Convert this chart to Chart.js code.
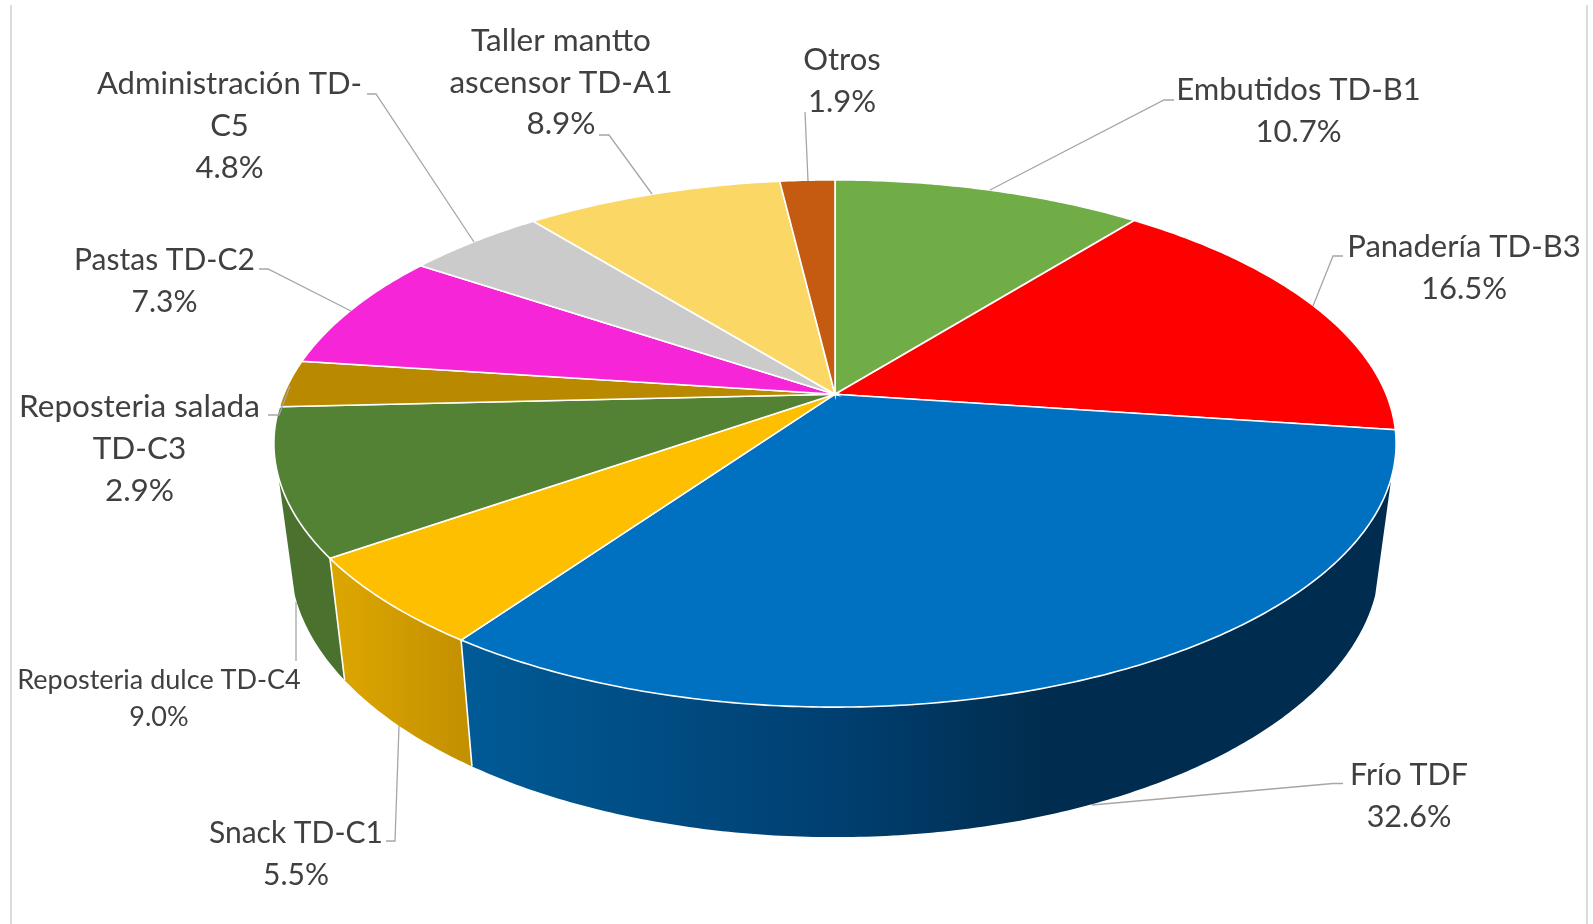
<!DOCTYPE html>
<html>
<head>
<meta charset="utf-8">
<title>Pie</title>
<script src="https://cdn.jsdelivr.net/npm/chart.js@4"></script>
<style>
  html, body { margin: 0; padding: 0; background: #fff; }
  canvas { display: block; }
</style>
</head>
<body>
<canvas id="pieChart" width="1593" height="924"></canvas>
<script>
// Chart data
const categories = ["Embutidos TD-B1", "Panadería TD-B3", "Frío TDF", "Snack TD-C1", "Reposteria dulce TD-C4",
  "Reposteria salada TD-C3", "Pastas TD-C2", "Administración TD-C5", "Taller mantto ascensor TD-A1", "Otros"];
const values = [10.7, 16.5, 32.6, 5.5, 9.0, 2.9, 7.3, 4.8, 8.9, 1.9];
const topColors = ["#70ad47", "#ff0000", "#0070c0", "#fdbf00", "#548235", "#b98a00", "#f626d8", "#cccbcc", "#fbd766", "#c55a11"];

// Wrapped label text, same order as categories
const labelLines = [
  ["Embutidos TD-B1"],
  ["Panadería TD-B3"],
  ["Frío TDF"],
  ["Snack TD-C1"],
  ["Reposteria dulce TD-C4"],
  ["Reposteria salada", "TD-C3"],
  ["Pastas TD-C2"],
  ["Administración TD-", "C5"],
  ["Taller mantto", "ascensor TD-A1"],
  ["Otros"],
];

// Label layout: centre x, first line y, line step, font size
const labelBoxes = [
  [1298.5, 90, 42, 31],
  [1464, 246.5, 42, 31],
  [1409, 775, 42.5, 30.5],
  [296, 833, 42.5, 30],
  [159, 680.5, 37, 27],
  [139.5, 406.5, 42, 31.5],
  [164.5, 260.5, 42, 30],
  [229.5, 84, 41.8, 31],
  [561, 41, 41.5, 31.5],
  [842, 59.5, 42, 31],
];

// Leader lines, label end first
const leaders = [
  [[1174, 100], [1164, 100], [990, 190]],
  [[1343, 256], [1333, 256], [1313, 306]],
  [[1343, 783.5], [1333, 783.5], [1092, 805]],
  [[386, 841], [395, 841], [399, 726]],
  [[296, 661], [296, 602]],
  [[268, 415], [279, 415], [290, 386]],
  [[259, 269], [268, 269], [351, 311]],
  [[367, 94], [376, 94], [474, 242]],
  [[599, 135], [609, 135], [652, 194]],
  [[805, 112], [808, 181]],
];

// Perspective of the pie disc
const apexX = 835, apexY = 394.2;
const radiusX = 551.2, radiusY = 254.4, tilt = -0.187;
const frontY = 707, depth = 130, depthGrow = 0.055, shrinkX = 0.971;
// Angles where the wall's outline leaves the disc
const wallStart = 18 * Math.PI / 180, wallEnd = 162 * Math.PI / 180;

function topPoint(angle) {
  const u = Math.cos(angle), v = Math.sin(angle);
  const w = 1 + tilt * v;
  return [apexX + radiusX * u / w, apexY + radiusY * v / w];
}

function bottomPoint(angle) {
  const p = topPoint(angle);
  return [apexX + (p[0] - apexX) * shrinkX, p[1] + depth + depthGrow * (p[1] - frontY)];
}

function arcSamples(start, end, fn) {
  const pts = [];
  const n = Math.max(2, Math.ceil((end - start) / 0.01));
  for (let i = 0; i <= n; i++) {
    pts.push(fn(start + (end - start) * i / n));
  }
  return pts;
}

function tracePath(ctx, pts) {
  ctx.beginPath();
  pts.forEach(function (p, i) {
    if (i === 0) ctx.moveTo(p[0], p[1]);
    else ctx.lineTo(p[0], p[1]);
  });
}

function sideFill(ctx, index) {
  if (index === 2) {
    const g = ctx.createLinearGradient(472, 0, 1040, 0);
    g.addColorStop(0, "#005a96");
    g.addColorStop(0.65, "#003f70");
    g.addColorStop(1, "#002d4f");
    return g;
  }
  if (index === 3) {
    const g = ctx.createLinearGradient(345, 0, 472, 0);
    g.addColorStop(0, "#dba500");
    g.addColorStop(1, "#c28f00");
    return g;
  }
  return "#4a712d";
}

const pie3d = {
  id: "pie3d",
  beforeDatasetsDraw: function (chart) {
    const ctx = chart.ctx;
    const arcs = chart.getDatasetMeta(0).data;

    // Frame lines
    ctx.fillStyle = "#dcdcdc";
    ctx.fillRect(10, 5, 2, 919);
    ctx.fillRect(1586, 5, 2, 919);

    // Side wall: only the slices facing the viewer
    [2, 3, 4].forEach(function (i) {
      const a1 = Math.max(arcs[i].startAngle, wallStart);
      const a2 = Math.min(arcs[i].endAngle, wallEnd);
      const pts = arcSamples(a1, a2, topPoint).concat(arcSamples(a1, a2, bottomPoint).reverse());
      tracePath(ctx, pts);
      ctx.closePath();
      ctx.fillStyle = sideFill(ctx, i);
      ctx.fill();
    });
    ctx.strokeStyle = "#ffffff";
    ctx.lineWidth = 1.6;
    [3, 4].forEach(function (i) {
      tracePath(ctx, [topPoint(arcs[i].startAngle), bottomPoint(arcs[i].startAngle)]);
      ctx.stroke();
    });

    // Top face
    arcs.forEach(function (arc) {
      const pts = [[apexX, apexY]].concat(arcSamples(arc.startAngle, arc.endAngle, topPoint));
      tracePath(ctx, pts);
      ctx.closePath();
      ctx.fillStyle = arc.options.backgroundColor;
      ctx.fill();
      ctx.strokeStyle = "#ffffff";
      ctx.lineWidth = 1.6;
      ctx.stroke();
    });

    // Leaders
    ctx.strokeStyle = "#a6a6a6";
    ctx.lineWidth = 1.3;
    leaders.forEach(function (line) {
      tracePath(ctx, line);
      ctx.stroke();
    });

    // Labels
    ctx.fillStyle = "#404040";
    ctx.textAlign = "center";
    ctx.textBaseline = "middle";
    labelLines.forEach(function (lines, i) {
      const box = labelBoxes[i];
      ctx.font = box[3] + "px Lato";
      lines.concat(values[i].toFixed(1) + "%").forEach(function (text, j) {
        ctx.fillText(text, box[0], box[1] + j * box[2]);
      });
    });
    return false;
  },
};

new Chart(document.getElementById("pieChart").getContext("2d"), {
  type: "pie",
  data: {
    labels: categories,
    datasets: [{ data: values, backgroundColor: topColors }],
  },
  options: {
    responsive: false,
    animation: false,
    plugins: { legend: { display: false }, tooltip: { enabled: false } },
  },
  plugins: [pie3d],
});
</script>
</body>
</html>
